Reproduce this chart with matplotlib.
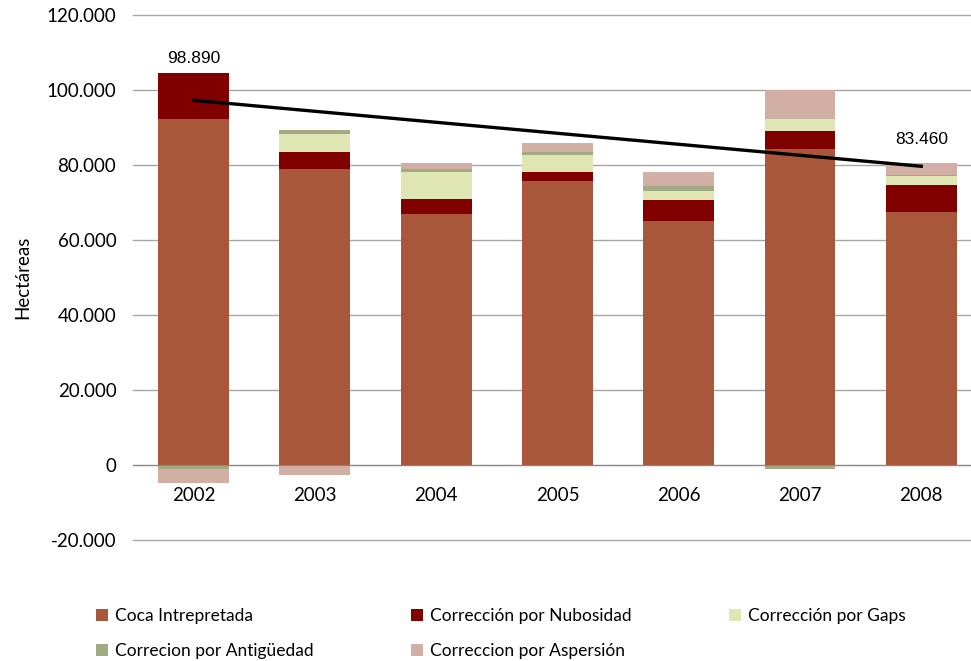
import numpy as np
import matplotlib
matplotlib.use("Agg")
import matplotlib.pyplot as plt
from matplotlib.ticker import FuncFormatter

plt.rcParams["font.family"] = ["Lato", "DejaVu Sans"]

years = ["2002", "2003", "2004", "2005", "2006", "2007", "2008"]
series_names = ["Coca Intrepretada", "Corrección por Nubosidad", "Corrección por Gaps",
                "Correcion por Antigüedad", "Correccion por Aspersión"]
coca = [92400, 79100, 67100, 75900, 65200, 84200, 67600]
nubosidad = [12300, 4500, 4000, 2400, 5600, 4800, 7200]
gaps = [0, 4600, 7100, 4500, 2400, 3400, 2300]
antiguedad = [-1000, 1100, 800, 800, 1300, -1000, 300]
aspersion = [-3700, -2700, 1700, 2400, 3800, 7700, 3200]
colors = ["#A9573B", "#800000", "#DFE6B4", "#A2AA84", "#D2AFA4"]

# labelled totals and trend line ends
total_labels = {0: "98.890", 6: "83.460"}
total_label_y = [106500, 84800]
trend = [97300, 79700]

fig = plt.figure(figsize=(9.71, 6.61), dpi=100)
ax = fig.add_axes([0.137, 0.183, 0.863, 0.794])

x = np.arange(len(years))
pos_bottom = np.zeros(len(years))
neg_bottom = np.zeros(len(years))
handles = []
for name, vals, c in zip(series_names, [coca, nubosidad, gaps, antiguedad, aspersion], colors):
    vals = np.array(vals, dtype=float)
    bottom = np.where(vals >= 0, pos_bottom, neg_bottom)
    h = ax.bar(x, vals, 0.585, bottom=bottom, color=c, label=name, zorder=2)
    handles.append(h)
    pos_bottom += np.where(vals >= 0, vals, 0)
    neg_bottom += np.where(vals < 0, vals, 0)

ax.plot([x[0], x[-1]], trend, color="black", lw=2.4, zorder=3)

for (i, txt), yv in zip(total_labels.items(), total_label_y):
    ax.text(x[i], yv, txt, ha="center", va="bottom", fontsize=12.5,
            family=["Liberation Sans Narrow", "Liberation Sans", "DejaVu Sans"])

ax.set_ylim(-20000, 120000)
ax.set_xlim(-0.5, 6.41)
ax.set_yticks(np.arange(-20000, 120001, 20000))
ax.yaxis.set_major_formatter(FuncFormatter(lambda v, p: f"{int(v):,}".replace(",", ".")))
ax.grid(axis="y", color="#A6A6A6", lw=1, zorder=0)
for gl in ax.get_ygridlines():
    gl.set_clip_on(False)
for s in ["top", "right", "left"]:
    ax.spines[s].set_visible(False)
ax.spines["bottom"].set_position(("data", 0))
ax.spines["bottom"].set_color("#868686")
ax.spines["bottom"].set_zorder(4)
ax.set_xticks(x)
ax.set_xticklabels(years)
ax.tick_params(axis="x", length=0, pad=16, labelsize=13.5)
ax.tick_params(axis="y", length=0, pad=12, labelsize=13.5)
ax.set_ylabel("Hectáreas", fontsize=13.5, labelpad=11)

order = [0, 3, 1, 4, 2]
fig.legend([handles[i] for i in order], [series_names[i] for i in order],
           ncol=3, loc="lower left", bbox_to_anchor=(0.0917, -0.008), frameon=False,
           fontsize=12.5, handlelength=0.7, handleheight=0.7, handletextpad=0.4,
           columnspacing=5.6, labelspacing=1.1, borderaxespad=0, borderpad=0.4)

fig.savefig("out.png", dpi=100)
